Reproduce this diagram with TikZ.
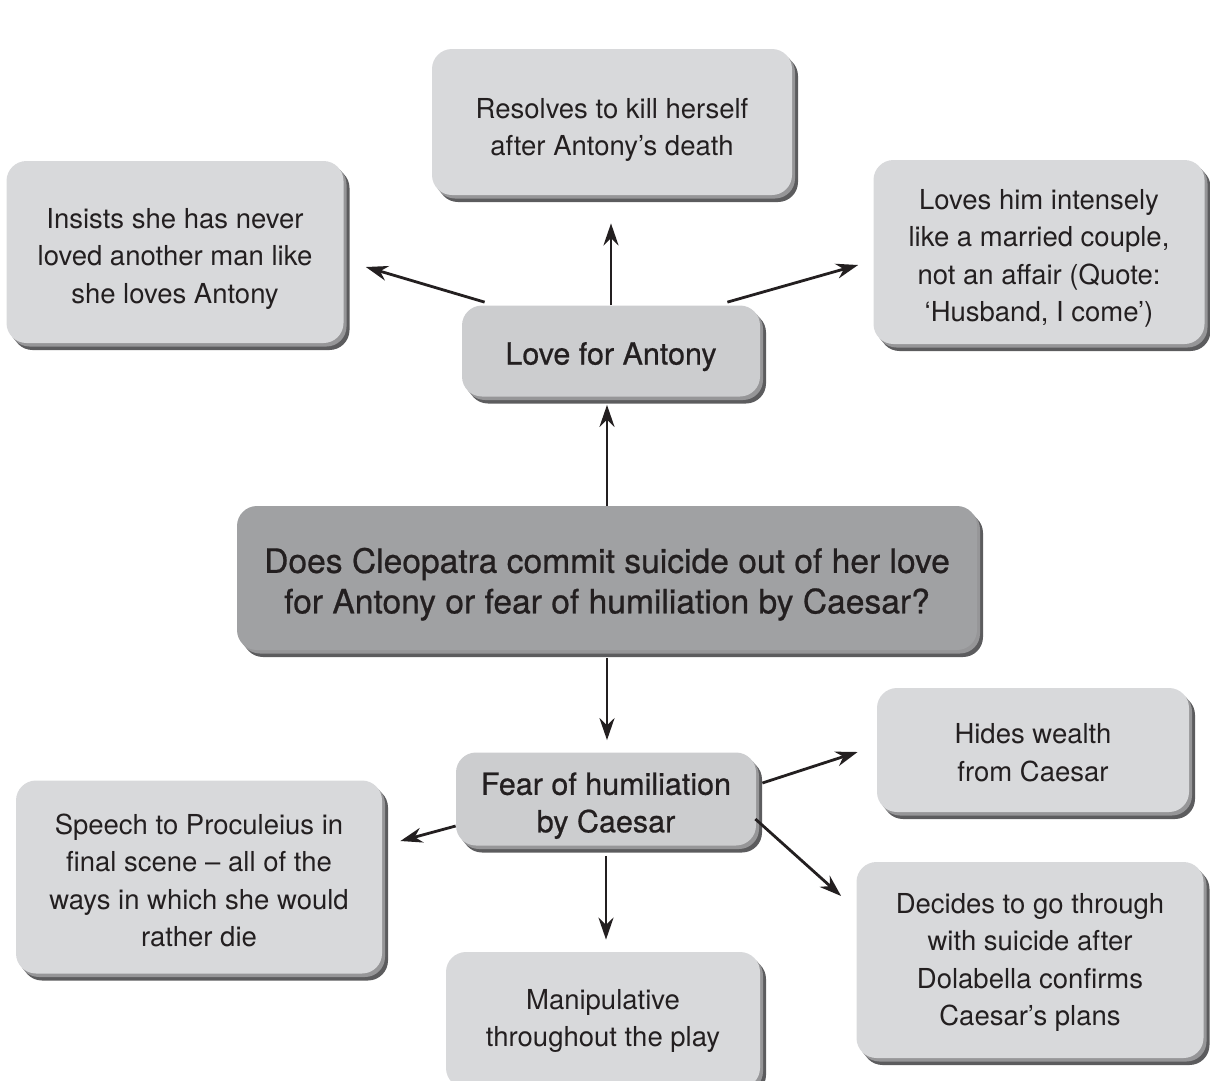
\documentclass[tikz,border=0pt]{standalone}
\usepackage{fontspec}
\setmainfont{TeX Gyre Heros}
\newfontfamily\hubface{TeX Gyre Heros}[FakeBold=0.7]
\usetikzlibrary{arrows.meta,shadows,calc}
\definecolor{boxgrey}{RGB}{216,217,219}
\definecolor{hubgrey}{RGB}{204,205,207}
\definecolor{maingrey}{RGB}{160,161,163}
\definecolor{bevelgrey}{RGB}{92,92,94}
\definecolor{bevelmid}{RGB}{150,150,152}
\definecolor{inkgrey}{RGB}{35,31,32}
\tikzset{every picture/.style={line width=0.75pt}}
% lines of a box, pushed down by half the kern
\newcommand\boxlines[2][12pt]{\vbox{\kern#1\hbox{\begin{tabular}{@{}c@{}}#2\end{tabular}}}}

\begin{document}
\begin{tikzpicture}[x=1pt,y=1pt,yscale=-1,
    box/.style={rounded corners=20pt, text=inkgrey, inner sep=0pt,
      general shadow={fill=bevelgrey, shadow xshift=6pt, shadow yshift=-7pt},
      general shadow={fill=bevelmid, shadow xshift=3pt, shadow yshift=-3.5pt}},
    leaf/.style={box, fill=boxgrey, font=\fontsize{27.5}{37.5}\selectfont},
    hub/.style={box, fill=hubgrey, font=\hubface\fontsize{30.5}{37.5}\selectfont},
    question/.style={box, fill=maingrey, font=\hubface\fontsize{33.6}{40.5}\selectfont},
    link/.style={draw=inkgrey, line width=2.8pt, -{Stealth[length=22pt,width=15pt]}}]
  \useasboundingbox (0,0) rectangle (1210,1080);

  %Shape: main question
  \node[question, minimum width=740pt, minimum height=144pt] (question) at (607,578)
    {\boxlines[14pt]{Does Cleopatra commit suicide out of her love\\for Antony or fear of humiliation by Caesar?}};

  %Shape: love branch
  \node[hub, minimum width=298pt, minimum height=91pt] (love) at (611,351) {\boxlines{Love for Antony}};
  \node[leaf, minimum width=360pt, minimum height=146pt] (resolves) at (612,122)
    {\boxlines[15pt]{Resolves to kill herself\\after Antony’s death}};
  \node[leaf, minimum width=337pt, minimum height=182pt] (insists) at (175,252)
    {\boxlines{Insists she has never\\loved another man like\\she loves Antony}};
  \node[leaf, minimum width=331pt, minimum height=184pt] (loves) at (1039,252)
    {\boxlines{Loves him intensely\\like a married couple,\\not an affair (Quote:\\‘Husband, I come’)}};

  %Shape: fear branch
  \node[hub, minimum width=300pt, minimum height=93pt] (fear) at (606,799)
    {\boxlines[14pt]{Fear of humiliation\\by Caesar}};
  \node[leaf, minimum width=312pt, minimum height=124pt] (hides) at (1033,750)
    {\boxlines[10pt]{Hides wealth\\from Caesar}};
  \node[leaf, minimum width=366pt, minimum height=193pt] (speech) at (199,877)
    {\boxlines{Speech to Proculeius in\\final scene – all of the\\ways in which she would\\rather die}};
  \node[leaf, minimum width=347pt, minimum height=196pt] (decides) at (1030,960)
    {\boxlines[4pt]{Decides to go through\\with suicide after\\Dolabella confirms\\Caesar’s plans}};
  \node[leaf, minimum width=314pt, minimum height=136pt] (manip) at (603,1020)
    {\boxlines[1pt]{Manipulative\\throughout the play}};

  %Arrows
  \draw[link] (question.north) -- ($(question.north |- love.south)+(0,8)$);
  \draw[link] ($(question.south)+(0,8)$) -- ($(question.south |- fear.north)+(0,-12)$);
  \draw[link] (love.north) -- ($(love.north |- resolves.south)+(0,28)$);
  \draw[link] ($(love.north west)+(23,-3)$) -- ($(insists.east)+(22,15)$);
  \draw[link] ($(love.north east)+(-33,-3)$) -- ($(loves.west)+(-15,13)$);
  \draw[link] ($(fear.west)+(0,27)$) -- ($(speech.east)+(18,-36)$);
  \draw[link] ($(fear.east)+(6,-16)$) -- ($(hides.west)+(-19,2)$);
  \draw[link] ($(fear.east)+(-1,20)$) -- ($(decides.west)+(-15,-64)$);
  \draw[link] ($(fear.south)+(0,10)$) -- ($(fear.south |- manip.north)+(0,-12)$);
\end{tikzpicture}
\end{document}
